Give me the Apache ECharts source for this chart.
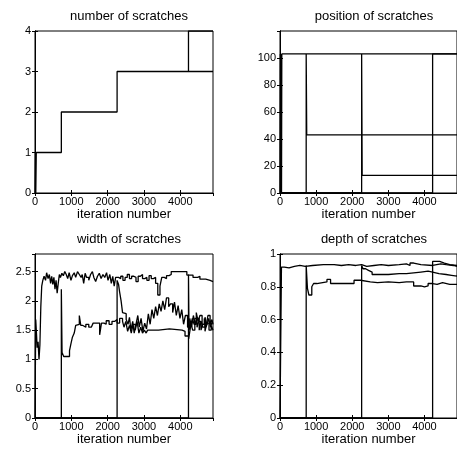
<!DOCTYPE html>
<html>
<head>
<meta charset="utf-8">
<script src="https://cdn.jsdelivr.net/npm/echarts@6/dist/echarts.min.js"></script>
<style>
html,body{margin:0;padding:0;background:#fff}
#main{width:457px;height:455px}
</style>
</head>
<body>
<div id="main"></div>
<script>
// titles of the four panels
var titles=['number of scratches','position of scratches','width of scratches','depth of scratches'];
var xName='iteration number';

// number of scratches  [iteration, value]
var numMain=[[0,0],[12,1],[22,0],[35,1],[725,2],[2260,3],[4225,4],[4900,4]];
var numAlt=[[4225,3],[4900,3]];

// position of scratches
var pos1=[[0,0],[10,103],[20,0],[32,103],[42,0],[50,103],[4900,103]];
var pos2=[[0,0],[725,103],[740,43],[4900,43]];
var pos3=[[0,0],[2260,103],[2275,13],[4900,13]];
var pos4=[[0,0],[4225,103],[4900,103]];

// width of scratches
var wid1=[[0,0],[20,1.68],[40,1.45],[60,1.2],[85,1.3],[110,1.0],[135,1.25],[160,1.9],[185,2.25],[215,2.35],[250,2.42],
  [290,2.35],[320,2.48],[360,2.38],[395,2.45],[430,2.3],[460,2.42],[490,2.28],[520,2.4],[550,2.2],[580,2.35],[610,2.13],
  [640,2.3],[670,2.45],[700,2.4],[740,2.47],[780,2.43],[820,2.5],[860,2.45],[900,2.38],[940,2.48],[990,2.35],[1030,2.43],
  [1080,2.48],[1120,2.4],[1170,2.5],[1220,2.45],[1270,2.4],[1300,2.45],[1340,2.3],[1380,2.47],[1420,2.4],[1480,2.35],
  [1530,2.45],[1580,2.5],[1620,2.4],[1670,2.33],[1720,2.42],[1770,2.47],[1820,2.38],[1870,2.45],[1920,2.4],[1970,2.48],
  [2010,2.35],[2060,2.45],[2100,2.3],[2140,2.42],[2180,2.25],[2220,2.4],[2300,2.38],[2360,2.42],[2420,2.35],[2480,2.4],
  [2540,2.45],[2600,2.38],[2660,2.42],[2720,2.4],[2780,2.33],[2840,2.42],[2900,2.45],[2960,2.38],[3020,2.4],[3080,2.35],
  [3140,2.43],[3200,2.38],[3260,2.4],[3320,2.3],[3380,2.1],[3440,2.25],[3490,2.4],[3560,2.38],[3620,2.43],[3690,2.45],
  [3750,2.5],[4180,2.44],[4350,2.4],[4480,2.42],[4540,2.37],[4700,2.35],[4820,2.33],[4900,2.33]];
var wid2=[[0,0],[725,2.2],[745,1.12],[790,1.05],[850,1.08],[900,1.05],[950,1.15],[990,1.27],[1030,1.38],[1080,1.45],
  [1120,1.58],[1170,1.6],[1220,1.75],[1260,1.58],[1320,1.55],[1400,1.6],[1480,1.55],[1550,1.58],[1600,1.62],[1780,1.42],
  [1830,1.62],[1900,1.6],[1960,1.66],[2040,1.6],[2120,1.65],[2200,1.68],[2260,1.62],[2330,1.7],[2410,1.65],[2450,1.55],
  [2500,1.65],[2550,1.48],[2600,1.58],[2650,1.45],[2700,1.6],[2760,1.5],[2810,1.65],[2860,1.45],[2910,1.55],[2960,1.45],
  [3010,1.5],[3060,1.45],[3100,1.5],[3400,1.52],[3700,1.5],[4050,1.48],[4130,1.4],[4230,1.35],[4280,1.55],[4330,1.7],
  [4380,1.6],[4440,1.8],[4490,1.65],[4540,1.75],[4600,1.6],[4660,1.7],[4710,1.55],[4760,1.75],[4820,1.6],[4870,1.68],[4900,1.6]];
var wid3=[[0,0],[2260,2.35],[2300,2.28],[2330,2.15],[2370,2.0],[2410,1.8],[2460,1.78],[2510,1.68],[2560,1.6],[2600,1.72],
  [2640,1.5],[2690,1.65],[2730,1.45],[2780,1.6],[2830,1.75],[2870,1.55],[2920,1.7],[2970,1.48],[3020,1.62],[3070,1.52],
  [3120,1.78],[3170,1.6],[3220,1.85],[3270,1.7],[3320,1.9],[3370,1.75],[3420,1.95],[3470,1.82],[3520,2.0],[3570,1.85],
  [3620,2.05],[3680,1.9],[3730,1.95],[3790,1.8],[3840,1.98],[3890,1.75],[3940,1.92],[3990,1.7],[4040,1.85],[4090,1.6],
  [4140,1.75],[4200,1.55],[4260,1.7],[4310,1.55],[4360,1.75],[4410,1.6],[4460,1.7],[4520,1.5],[4570,1.65],[4620,1.55],
  [4680,1.72],[4730,1.58],[4780,1.7],[4830,1.55],[4880,1.65],[4900,1.65]];
var wid4=[[0,0],[4225,2.45],[4240,1.5],[4290,1.62],[4340,1.5],[4400,1.7],[4460,1.55],[4510,1.65],[4570,1.5],[4620,1.6],
  [4680,1.48],[4730,1.62],[4790,1.5],[4850,1.58],[4900,1.5]];

// depth of scratches
var dep1=[[0,0],[40,0.92],[120,0.915],[250,0.925],[400,0.93],[550,0.925],[700,0.93],[900,0.935],[1200,0.935],[1500,0.93],
  [1700,0.935],[1900,0.93],[2100,0.935],[2260,0.925],[2400,0.93],[2600,0.935],[2800,0.93],[3000,0.935],[3300,0.94],
  [3500,0.93],[3600,0.945],[3700,0.935],[3900,0.93],[4225,0.94],[4450,0.935],[4600,0.93],[4800,0.925],[4900,0.925]];
var dep2=[[0,0],[725,0.93],[760,0.79],[800,0.75],[880,0.8],[930,0.82],[1020,0.83],[1300,0.845],[1400,0.82],[1700,0.82],
  [2050,0.84],[2230,0.83],[2500,0.825],[2700,0.83],[3000,0.825],[3300,0.83],[3500,0.83],[3700,0.805],[3900,0.8],
  [4000,0.805],[4100,0.82],[4225,0.815],[4350,0.825],[4500,0.815],[4700,0.815],[4900,0.815]];
var dep3=[[0,0],[2260,0.93],[2300,0.91],[2370,0.9],[2450,0.89],[2550,0.875],[2800,0.875],[3000,0.88],[3300,0.88],
  [3500,0.885],[3700,0.89],[3900,0.895],[4100,0.89],[4225,0.88],[4400,0.875],[4600,0.87],[4750,0.865],[4900,0.87]];
var dep4=[[0,0],[4225,0.955],[4420,0.945],[4550,0.935],[4700,0.93],[4900,0.93]];

var xMax=4900;
var xStep=1000;
var yMax=[4,120,2.8,1];
var yStep=[1,20,0.5,0.2];
var yTopLabel=[true,false,false,true];
var panelSeries=[[numMain,numAlt],[pos1,pos2,pos3,pos4],[wid1,wid2,wid3,wid4],[dep1,dep2,dep3,dep4]];

var font="'Liberation Sans', Arial, sans-serif";
var grids=[
    {left:35,top:31,width:178,height:162},
    {left:280,top:31,width:178,height:162},
    {left:35,top:254,width:178,height:164},
    {left:280,top:254,width:178,height:164}
];

function plain(v){
    return String(Math.round(v*10)/10);
}

var xAxes=[],yAxes=[],series=[],titleList=[];
for(var i=0;i<4;i++){
    var g=grids[i];
    grids[i].show=true;
    grids[i].borderColor='#000';
    grids[i].borderWidth=1;
    titleList.push({
        text:titles[i],
        left:g.left+89,
        top:g.top-26,
        textAlign:'center',
        textStyle:{fontSize:13,fontWeight:'normal',color:'#000',fontFamily:font}
    });
    // bottom axis with labels, and a top one that only carries ticks
    for(var k=0;k<2;k++){
        xAxes.push({
            type:'value',gridIndex:i,position:k==0?'bottom':'top',
            min:0,max:xMax,interval:xStep,
            name:k==0?xName:'',nameLocation:'middle',nameGap:13,
            nameTextStyle:{fontSize:13,color:'#000',fontFamily:font},
            axisLine:{show:true,lineStyle:{color:'#000',width:1}},
            axisTick:{show:true,inside:true,length:3,lineStyle:{color:'#000'}},
            axisLabel:{show:k==0,showMaxLabel:false,fontSize:11,color:'#000',fontFamily:font,margin:3,formatter:plain},
            splitLine:{show:false}
        });
        yAxes.push({
            type:'value',gridIndex:i,position:k==0?'left':'right',
            min:0,max:yMax[i],interval:yStep[i],
            axisLine:{show:true,lineStyle:{color:'#000',width:1}},
            axisTick:{show:true,inside:true,length:3,lineStyle:{color:'#000'}},
            axisLabel:{show:k==0,showMaxLabel:yTopLabel[i],fontSize:11,color:'#000',fontFamily:font,margin:4,formatter:plain},
            splitLine:{show:false}
        });
    }
    for(var s=0;s<panelSeries[i].length;s++){
        series.push({
            type:'line',step:'end',
            xAxisIndex:i*2,yAxisIndex:i*2,
            data:panelSeries[i][s],
            showSymbol:false,
            lineStyle:{color:'#000',width:1.3},
            itemStyle:{color:'#000'}
        });
    }
}

var myChart=echarts.init(document.getElementById('main'));
myChart.setOption({
    backgroundColor:'#fff',
    animation:false,
    title:titleList,
    grid:grids,
    xAxis:xAxes,
    yAxis:yAxes,
    series:series
});
</script>
</body>
</html>
